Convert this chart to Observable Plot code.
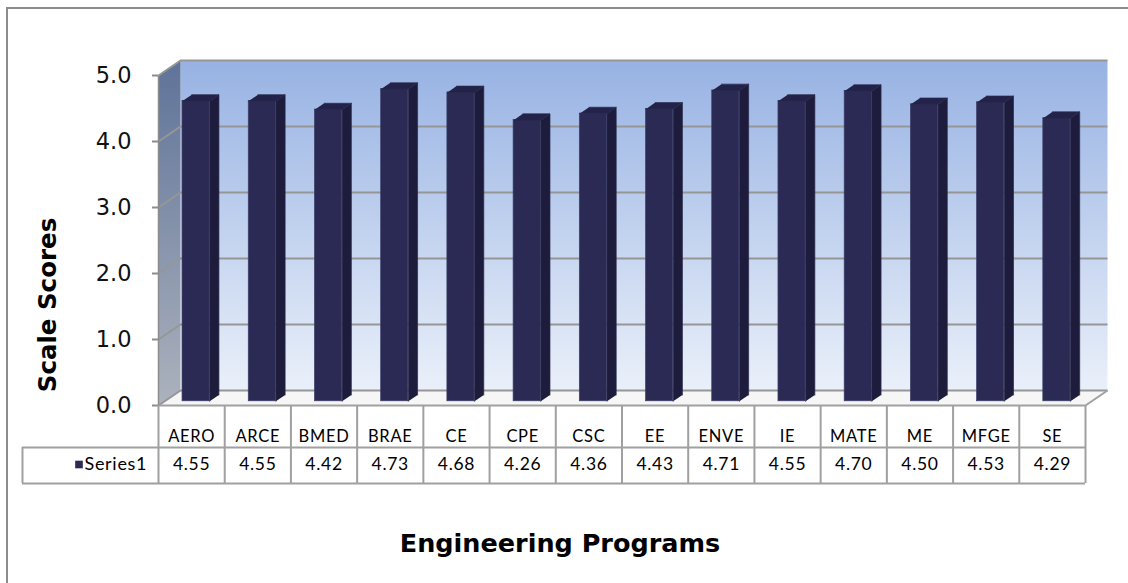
<!DOCTYPE html>
<html>
<head>
<meta charset="utf-8">
<script src="https://cdn.jsdelivr.net/npm/d3@7"></script>
<script src="https://cdn.jsdelivr.net/npm/@observablehq/plot@0.6"></script>
<style>
  html, body { margin: 0; padding: 0; background: #fff; overflow: hidden; }
  #wrap { position: relative; width: 1128px; height: 583px; overflow: hidden; background: #fff; }
  #frame { position: absolute; left: 6px; top: 7px; width: 1300px; height: 800px;
           border-top: 2px solid #8c8c8c; border-left: 2px solid #8c8c8c; pointer-events: none; }
  #chart { position: absolute; left: 0; top: 0; }
  .ylab { position: absolute; left: 47px; top: 305px; transform: translate(-50%, -50%) rotate(-90deg);
          font-family: "DejaVu Sans", sans-serif; font-weight: bold; font-size: 24.5px; white-space: nowrap; color: #000; }
  .xlab { position: absolute; left: 560px; top: 543px; transform: translate(-50%, -50%);
          font-family: "DejaVu Sans", sans-serif; font-weight: bold; font-size: 25.5px; white-space: nowrap; color: #000; }
  svg [aria-label="y-axis tick"] path, svg [aria-label="y-axis"] path { stroke: #8c8c8c; stroke-width: 2px; }
  svg [aria-label="y-axis tick label"] text { fill: #111; }
  svg g[aria-label="text"] text { letter-spacing: 0.7px; }
</style>
</head>
<body>
<div id="wrap">
  <div id="chart"></div>
  <div class="ylab">Scale Scores</div>
  <div class="xlab">Engineering Programs</div>
  <div id="frame"></div>
</div>
<script>
// ---- data ----
const categories = ["AERO","ARCE","BMED","BRAE","CE","CPE","CSC","EE","ENVE","IE","MATE","ME","MFGE","SE"];
const values = [4.55,4.55,4.42,4.73,4.68,4.26,4.36,4.43,4.71,4.55,4.70,4.50,4.53,4.29];
const yTicks = [0,1,2,3,4,5];
const seriesName = "Series1";

// ---- layout constants ----
const W = 1128, H = 583;
const mL = 158, mR = 43, mT = 75, mB = 178;
const n = categories.length;
const yMax = 5;
const pxX = (W - mL - mR) / n;         // px per x unit
const pxY = (H - mT - mB) / yMax;      // px per y unit
const DX = 22 / pxX, DY = 15 / pxY;    // full depth of the 3D box, in data units
const f1 = 0.28, f2 = 0.70;            // bar depth (front/back fraction)
const bx1 = 0.27, bx2 = 0.68;          // bar extent inside each category
const P = (x, y, d) => ({x: x + d * DX, y: y + d * DY});

// table rows (below the floor), in data units
const yHdr = -31 / pxY, yDiv = -42 / pxY, yVal = -59 / pxY, yBot = -78 / pxY;
const xLeg = (22 - mL) / pxX;

// polygons
const poly = (id, pts) => pts.map(p => ({id, ...p}));
const backWall = poly("back", [P(0,0,1), P(n,0,1), P(n,yMax,1), P(0,yMax,1)]);
const sideWall = poly("side", [P(0,0,0), P(0,yMax,0), P(0,yMax,1), P(0,0,1)]);
const floor = poly("floor", [P(0,0,0), P(n,0,0), P(n,0,1), P(0,0,1)]);
const grid = yTicks.flatMap(t => poly("g" + t, [P(0,t,0), P(0,t,1), P(n,t,1)]));
const floorEdge = poly("fe", [P(0,0,0), P(n,0,0), P(n,0,1)]);
const axisEdge = poly("ax", [P(0,0,0), P(0,yMax,0)]);

const bars = values.map((v, i) => ({i, v}));
const sides = bars.flatMap(b => poly("s" + b.i, [P(b.i+bx2,0,f1), P(b.i+bx2,b.v,f1), P(b.i+bx2,b.v,f2), P(b.i+bx2,0,f2)]));
const tops = bars.flatMap(b => poly("t" + b.i, [P(b.i+bx1,b.v,f1), P(b.i+bx2,b.v,f1), P(b.i+bx2,b.v,f2), P(b.i+bx1,b.v,f2)]));

const tableFont = "Lato, 'Open Sans', sans-serif";

const chart = Plot.plot({
  width: W, height: H,
  marginLeft: mL, marginRight: mR, marginTop: mT, marginBottom: mB,
  style: {fontFamily: "'DejaVu Sans', sans-serif", fontSize: "22.5px", background: "transparent", overflow: "visible", color: "#000"},
  x: {type: "linear", domain: [0, n], axis: null},
  y: {domain: [0, yMax], ticks: yTicks.length - 1, tickFormat: d3.format(".1f"), tickSize: 6, tickPadding: 21, label: null},
  marks: [
    Plot.line(backWall, {x: "x", y: "y", z: "id", fill: "url(#wallG)", stroke: "none"}),
    Plot.line(sideWall, {x: "x", y: "y", z: "id", fill: "url(#sideG)", stroke: "none"}),
    Plot.line(floor, {x: "x", y: "y", z: "id", fill: "#f6f6f6", stroke: "none"}),
    Plot.line(grid, {x: "x", y: "y", z: "id", stroke: "#969696", strokeWidth: 2, strokeLinecap: "butt"}),
    Plot.line(floorEdge, {x: "x", y: "y", z: "id", stroke: "#a0a0a0", strokeWidth: 2, strokeLinecap: "butt"}),
    Plot.line(axisEdge, {x: "x", y: "y", z: "id", stroke: "#8c8c8c", strokeWidth: 1.5, strokeLinecap: "butt"}),
    // bars
    Plot.rect(bars, {x1: d => d.i + bx1 + f1 * DX, x2: d => d.i + bx2 + f1 * DX, y1: f1 * DY, y2: d => d.v + f1 * DY, fill: "#2b2a55", stroke: "#3c3f6a", strokeWidth: 0.7}),
    Plot.line(sides, {x: "x", y: "y", z: "id", fill: "#1d1c3c", stroke: "#2a2a4a", strokeWidth: 0.7}),
    Plot.line(tops, {x: "x", y: "y", z: "id", fill: "#23224a", stroke: "#2a2a4a", strokeWidth: 0.7}),
    // data table
    Plot.ruleX(d3.range(n + 1), {x: d => d, y1: 0, y2: yBot, stroke: "#a0a0a0", strokeWidth: 2}),
    Plot.ruleX([xLeg], {x: d => d, y1: yDiv, y2: yBot, stroke: "#a0a0a0", strokeWidth: 2}),
    Plot.ruleY([yDiv, yBot], {y: d => d, x1: xLeg, x2: n, stroke: "#a0a0a0", strokeWidth: 2}),
    Plot.text(categories, {x: (d, i) => i + 0.5, y: yHdr, text: d => d, fontFamily: tableFont, fontSize: 16.5, fill: "#000"}),
    Plot.text(values, {x: (d, i) => i + 0.5, y: yVal, text: d => d.toFixed(2), fontFamily: tableFont, fontSize: 17.5, fill: "#000"}),
    Plot.text([seriesName], {x: (84 - mL) / pxX, y: yVal, text: d => d, textAnchor: "start", fontFamily: tableFont, fontSize: 18, fill: "#000"}),
    Plot.dot([seriesName], {x: (78.5 - mL) / pxX, y: yVal, symbol: "square", r: 4.3, fill: "#2b2a55", stroke: "none"})
  ]
});

// gradients
const defs = d3.select(chart).insert("defs", ":first-child");
const g1 = defs.append("linearGradient").attr("id", "wallG").attr("x1", 0).attr("y1", 0).attr("x2", 0).attr("y2", 1);
g1.append("stop").attr("offset", 0).attr("stop-color", "#97b2e3");
g1.append("stop").attr("offset", 1).attr("stop-color", "#eaf0fa");
const g2 = defs.append("linearGradient").attr("id", "sideG").attr("x1", 0).attr("y1", 0).attr("x2", 0).attr("y2", 1);
g2.append("stop").attr("offset", 0).attr("stop-color", "#5f7399");
g2.append("stop").attr("offset", 1).attr("stop-color", "#acb2bd");

document.getElementById("chart").appendChild(chart);
</script>
</body>
</html>
